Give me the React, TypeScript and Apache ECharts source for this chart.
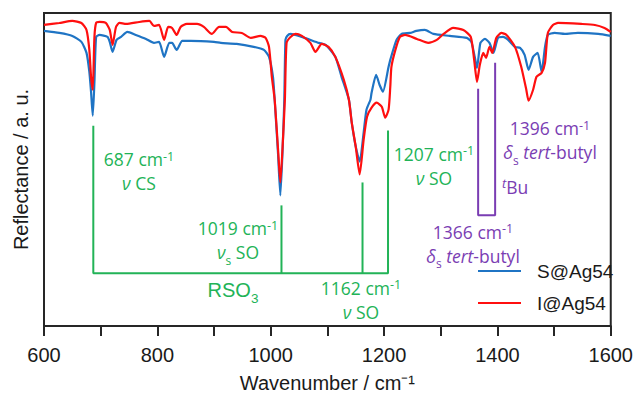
import React, { useEffect, useRef } from "react";
import * as echarts from "echarts";

// Wavenumber (cm-1) and reflectance (a.u.)
const sWave = [600, 627, 650, 666, 675, 680, 683, 686, 689, 692, 698, 712, 716, 721, 728, 736, 747, 762, 780, 794, 803, 812, 821, 826, 834, 844, 859, 900, 912, 940, 970, 988, 997, 1004, 1007, 1013, 1017, 1021, 1024, 1026, 1029, 1035, 1055, 1085, 1097, 1114, 1125, 1138, 1143, 1150, 1157, 1164, 1169, 1176, 1178, 1186, 1192, 1198, 1208, 1211, 1222, 1231, 1246, 1257, 1272, 1287, 1316, 1346, 1354, 1360, 1364, 1370, 1378, 1386, 1393, 1401, 1410, 1419, 1431, 1440, 1448, 1455, 1463, 1471, 1478, 1484, 1489, 1501, 1519, 1542, 1578, 1600];
const sValue = [296, 294, 291, 285, 274, 255, 235, 211, 245, 290, 292, 290, 285, 275, 287, 290, 295, 292, 288, 284, 285, 270, 284, 284, 277, 286, 286, 285, 284, 283, 280, 277, 270, 250, 227, 172, 131, 177, 227, 287, 291, 293, 290, 284, 282, 270, 250, 227, 204, 180, 165, 194, 217, 227, 234, 252, 242, 235, 260, 267, 287, 293, 294, 296, 297, 293, 291, 289, 285, 270, 259, 284, 288, 284, 274, 289, 290, 287, 280, 279, 272, 257, 270, 274, 255, 280, 292, 294, 293, 294, 293, 291];

const iWave = [600, 627, 650, 666, 675, 680, 683, 686, 689, 692, 698, 709, 716, 721, 727, 733, 745, 768, 786, 794, 803, 812, 819, 826, 834, 841, 852, 870, 882, 896, 909, 921, 932, 949, 965, 982, 991, 997, 1002, 1007, 1013, 1017, 1021, 1025, 1028, 1035, 1044, 1055, 1070, 1079, 1090, 1102, 1114, 1129, 1138, 1143, 1150, 1157, 1164, 1170, 1178, 1187, 1196, 1202, 1208, 1211, 1213, 1220, 1228, 1237, 1258, 1278, 1293, 1305, 1322, 1340, 1353, 1359, 1364, 1369, 1375, 1380, 1386, 1391, 1398, 1407, 1416, 1431, 1442, 1451, 1455, 1463, 1469, 1478, 1484, 1489, 1498, 1507, 1548, 1572, 1589, 1600];
const iValue = [302, 304, 306, 304, 297, 277, 250, 237, 290, 304, 305, 304, 297, 282, 300, 304, 303, 305, 306, 301, 302, 287, 300, 299, 292, 300, 303, 303, 300, 293, 300, 300, 295, 294, 289, 291, 289, 280, 250, 227, 177, 144, 180, 227, 284, 290, 293, 291, 284, 275, 283, 280, 270, 247, 227, 204, 180, 152, 187, 210, 219, 224, 220, 209, 217, 240, 260, 277, 290, 292, 288, 284, 287, 293, 299, 297, 290, 267, 245, 262, 274, 269, 280, 274, 289, 294, 292, 280, 260, 237, 226, 237, 250, 254, 264, 294, 302, 304, 303, 302, 299, 295];

// Band assignment markers (wavenumber, top of marker line in a.u.)
const rso3Wave = [687, 1019, 1162, 1207];
const rso3Top = [201, 121, 144, 196];
const rso3Level = 53;
const butylWave = [1366, 1396];
const butylTop = [238, 264];
const butylLevel = 111;

const xTicks = [600, 800, 1000, 1200, 1400, 1600];
const seriesNames = ["S@Ag54", "I@Ag54"];

const GREEN = "#22b357";
const PURPLE = "#7a3db3";
const BLUE = "#1f74c4";
const RED = "#ff0f0f";
const INK = "#1a1a1a";

const zip = (a: number[], b: number[]) => a.map((v, i) => [v, b[i]]);

function richFor(color: string) {
  const f = "'Open Sans', 'Noto Sans', sans-serif";
  return {
    n: { fill: color, fontFamily: f, fontSize: 17.5, lineHeight: 24 },
    i: { fill: color, fontFamily: f, fontSize: 17.5, fontStyle: "italic", lineHeight: 24 },
    sup: { fill: color, fontFamily: f, fontSize: 12.5, height: 18, verticalAlign: "top", lineHeight: 24 },
    supi: { fill: color, fontFamily: f, fontSize: 13, fontStyle: "italic", height: 16, verticalAlign: "top", lineHeight: 24 },
    sub: { fill: color, fontFamily: f, fontSize: 12, height: 8, verticalAlign: "bottom", lineHeight: 24 },
    a: { fill: color, fontFamily: "'Liberation Sans', Arial, sans-serif", fontSize: 20, lineHeight: 24 },
    asub: { fill: color, fontFamily: "'Liberation Sans', Arial, sans-serif", fontSize: 13.5, height: 8, verticalAlign: "bottom", lineHeight: 24 },
  };
}

function label(x: number, y: number, text: string, color: string, align = "center") {
  return {
    type: "text",
    x,
    y,
    silent: true,
    style: {
      text,
      rich: richFor(color),
      align,
      verticalAlign: "middle",
      fill: color,
    },
  };
}

export default function App() {
  const ref = useRef<HTMLDivElement>(null);
  useEffect(() => {
    if (!ref.current) return;
    const chart = echarts.init(ref.current, null, { renderer: "svg" });
    const markerLine = (data: number[][], color: string) => ({
      type: "line",
      data,
      symbol: "none",
      silent: true,
      lineStyle: { color, width: 2 },
      z: 1,
    });
    chart.setOption({
      animation: false,
      backgroundColor: "#ffffff",
      grid: { left: 44, right: 23, top: 13, bottom: 71, show: true, borderColor: "#262626", borderWidth: 2 },
      xAxis: {
        type: "value",
        min: 600,
        max: 1600,
        interval: 100,
        name: "Wavenumber / cm\u207b\u00b9",
        nameLocation: "middle",
        nameGap: 47,
        nameTextStyle: { fontSize: 20, color: INK, fontFamily: "'Liberation Sans', Arial, sans-serif" },
        axisLine: { show: true, lineStyle: { color: "#262626", width: 2 } },
        axisTick: { show: true, inside: false, length: 10, lineStyle: { color: "#262626", width: 2 } },
        axisLabel: {
          margin: 19,
          fontSize: 20,
          color: INK,
          fontFamily: "'Liberation Sans', Arial, sans-serif",
          formatter: (v: number) => (xTicks.includes(v) ? String(v) : ""),
        },
        splitLine: { show: false },
      },
      yAxis: {
        type: "value",
        min: 0,
        max: 314,
        name: "Reflectance / a. u.",
        nameLocation: "middle",
        nameGap: 13,
        nameTextStyle: { fontSize: 20, color: INK, fontFamily: "'Liberation Sans', Arial, sans-serif" },
        axisLine: { show: true, lineStyle: { color: "#262626", width: 2 } },
        axisTick: { show: false },
        axisLabel: { show: false },
        splitLine: { show: false },
      },
      legend: {
        data: seriesNames.map((name) => ({ name, icon: "rect" })),
        orient: "vertical",
        left: 473,
        top: 256,
        itemWidth: 43,
        itemHeight: 2,
        itemGap: 12,
        textStyle: { fontSize: 19, color: INK, fontFamily: "'Liberation Sans', Arial, sans-serif", lineHeight: 20, padding: [0, 0, 0, 11] },
      },
      series: [
        markerLine(zip([rso3Wave[0], rso3Wave[0], rso3Wave[3], rso3Wave[3]], [rso3Top[0], rso3Level, rso3Level, rso3Top[3]]), GREEN),
        markerLine(zip([rso3Wave[1], rso3Wave[1]], [rso3Top[1], rso3Level]), GREEN),
        markerLine(zip([rso3Wave[2], rso3Wave[2]], [rso3Top[2], rso3Level]), GREEN),
        markerLine(zip([butylWave[0], butylWave[0], butylWave[1], butylWave[1]], [butylTop[0], butylLevel, butylLevel, butylTop[1]]), PURPLE),
        {
          name: seriesNames[0],
          type: "line",
          data: zip(sWave, sValue),
          symbol: "none",
          smooth: 0.2,
          lineStyle: { color: BLUE, width: 2.2 },
          itemStyle: { color: BLUE },
          z: 2,
        },
        {
          name: seriesNames[1],
          type: "line",
          data: zip(iWave, iValue),
          symbol: "none",
          smooth: 0.2,
          lineStyle: { color: RED, width: 2.2 },
          itemStyle: { color: RED },
          z: 3,
        },
      ],
      graphic: [
        label(139, 171, "{n|687 cm}{sup|-1}\n{i|\u03bd}{n| CS}", GREEN),
        label(238, 240, "{n|1019 cm}{sup|-1}\n{i|\u03bd}{sub|s}{n| SO}", GREEN),
        label(361, 299.5, "{n|1162 cm}{sup|-1}\n{i|\u03bd}{n| SO}", GREEN),
        label(434, 165.5, "{n|1207 cm}{sup|-1}\n{i|\u03bd}{n| SO}", GREEN),
        label(233, 290, "{a|RSO}{asub|3}", GREEN),
        label(550, 140, "{n|1396 cm}{sup|-1}\n{i|\u03b4}{sub|s}{n| }{i|tert}{n|-butyl}", PURPLE),
        label(502, 187, "{supi|t}{n|Bu}", PURPLE, "left"),
        label(473, 243.5, "{n|1366 cm}{sup|-1}\n{i|\u03b4}{sub|s}{n| }{i|tert}{n|-butyl}", PURPLE),
      ],
    });
    return () => chart.dispose();
  }, []);
  return <div ref={ref} style={{ position: "fixed", left: 0, top: 0, width: 636, height: 398, background: "#fff" }} />;
}
